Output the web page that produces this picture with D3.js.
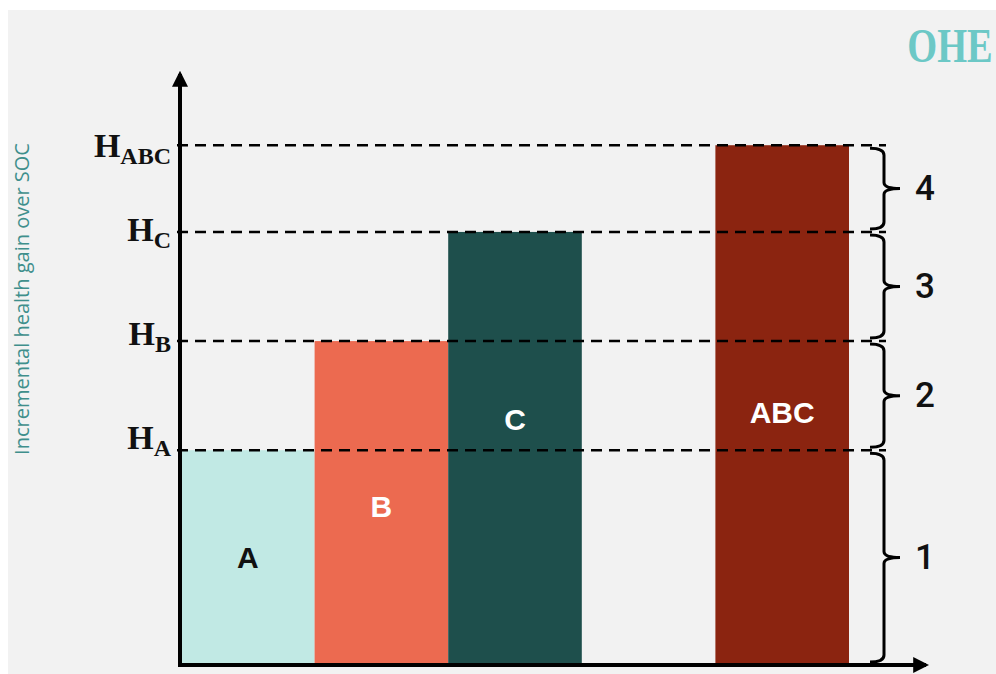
<!DOCTYPE html>
<html>
<head>
<meta charset="utf-8">
<script src="https://cdn.jsdelivr.net/npm/d3@7"></script>
<style>
  html, body { margin: 0; padding: 0; background: #ffffff; }
  svg { display: block; }
</style>
</head>
<body>
<svg id="chart" width="996" height="674"></svg>
<script>
// Options (bars), in drawing order; "_" is an empty slot between C and ABC
const categories = ["A", "B", "C", "_", "ABC"];
const barNames   = ["A", "B", "C", "ABC"];
const barValues  = [3.64, 5.49, 7.34, 8.81];
const barColors  = ["#c1e9e4", "#ec6a50", "#1e4f4c", "#8b2410"];
const barText    = ["#111111", "#ffffff", "#ffffff", "#ffffff"];

// Health-gain levels marked on the y axis (same values as the bars)
const levelMain = ["H", "H", "H", "H"];
const levelSub  = ["A", "B", "C", "ABC"];

// Braced increments between consecutive levels
const braceLabels = ["1", "2", "3", "4"];

const yTitle = "Incremental health gain over SOC";
const logoText = "OHE";

const svg = d3.select("#chart");

// light panel
svg.append("rect")
  .attr("x", 8).attr("y", 10)
  .attr("width", 996 - 8).attr("height", 674 - 10)
  .attr("fill", "#f2f2f2");

const x0 = 181, x1 = 849;
const y = d3.scaleLinear().domain([0, 10]).range([665, 75]);
const x = d3.scaleBand().domain(categories).range([x0, x1]).padding(0);

// arrow heads
const defs = svg.append("defs");
defs.append("marker")
  .attr("id", "arrow")
  .attr("viewBox", "0 0 10 10")
  .attr("refX", 8).attr("refY", 5)
  .attr("markerWidth", 4).attr("markerHeight", 4)
  .attr("markerUnits", "strokeWidth")
  .attr("orient", "auto")
  .append("path")
  .attr("d", "M0,0 L10,5 L0,10 Z")
  .attr("fill", "#000");

// bars
const bars = svg.append("g");
barNames.forEach((name, i) => {
  bars.append("rect")
    .attr("x", x(name))
    .attr("y", y(barValues[i]))
    .attr("width", x.bandwidth())
    .attr("height", y(0) - y(barValues[i]))
    .attr("fill", barColors[i]);
});

// bar labels (placed near the middle of each bar)
const labelFrac = [0.5, 0.49, 0.566, 0.485];
barNames.forEach((name, i) => {
  bars.append("text")
    .attr("x", x(name) + x.bandwidth() / 2)
    .attr("y", y(barValues[i] * labelFrac[i]))
    .attr("text-anchor", "middle")
    .attr("dominant-baseline", "central")
    .attr("font-family", "'Liberation Sans', Arial, sans-serif")
    .attr("font-weight", "bold")
    .attr("font-size", 30)
    .attr("fill", barText[i])
    .text(name);
});

// dashed level lines
const dashG = svg.append("g");
barValues.forEach(v => {
  dashG.append("line")
    .attr("x1", x0 - 4).attr("x2", 886)
    .attr("y1", y(v)).attr("y2", y(v))
    .attr("stroke", "#000")
    .attr("stroke-width", 2.5)
    .attr("stroke-dasharray", "11 7");
});

// axes
svg.append("line")
  .attr("x1", x0 - 1).attr("y1", y(0) + 2)
  .attr("x2", x0 - 1).attr("y2", 74)
  .attr("stroke", "#000").attr("stroke-width", 4)
  .attr("marker-end", "url(#arrow)");
svg.append("line")
  .attr("x1", x0 - 3).attr("y1", y(0))
  .attr("x2", 926).attr("y2", y(0))
  .attr("stroke", "#000").attr("stroke-width", 4)
  .attr("marker-end", "url(#arrow)");

// level labels H_A ... H_ABC (baseline nudged per label)
const lvlShift = [-1, 4, 9, 12];
const lvl = svg.append("g");
barValues.forEach((v, i) => {
  const t = lvl.append("text")
    .attr("x", 171)
    .attr("y", y(v) + lvlShift[i])
    .attr("text-anchor", "end")
    .attr("font-family", "'Liberation Serif', 'Times New Roman', serif")
    .attr("font-weight", "bold")
    .attr("fill", "#111");
  t.append("tspan").attr("font-size", 34).text(levelMain[i]);
  t.append("tspan").attr("font-size", 24).attr("dy", 7).text(levelSub[i]);
});

// curly braces
const levels = [0].concat(barValues);
const braceG = svg.append("g");
const xv = 884, xh = 870, xt = 900;
braceLabels.forEach((lab, i) => {
  const top = y(levels[i + 1]) + 3;
  const bot = y(levels[i]) - 3;
  const mid = (top + bot) / 2;
  const p = d3.path();
  p.moveTo(xh, top);
  p.quadraticCurveTo(xv, top, xv, top + 7);
  p.lineTo(xv, mid - 6);
  p.quadraticCurveTo(xv, mid, xt, mid);
  p.quadraticCurveTo(xv, mid, xv, mid + 6);
  p.lineTo(xv, bot - 7);
  p.quadraticCurveTo(xv, bot, xh, bot);
  braceG.append("path")
    .attr("d", p.toString())
    .attr("fill", "none")
    .attr("stroke", "#000")
    .attr("stroke-width", 3);
  braceG.append("text")
    .attr("x", 925)
    .attr("y", mid)
    .attr("text-anchor", "middle")
    .attr("dominant-baseline", "central")
    .attr("font-family", "Roboto, sans-serif")
    .attr("font-weight", 500)
    .attr("font-size", 35)
    .attr("fill", "#111")
    .text(lab);
});

// y-axis title
svg.append("text")
  .attr("transform", "translate(21,299) rotate(-90)")
  .attr("text-anchor", "middle")
  .attr("dominant-baseline", "central")
  .attr("font-family", "'Open Sans', sans-serif")
  .attr("font-size", 20)
  .attr("fill", "#3f8f8c")
  .text(yTitle);

// logo
svg.append("text")
  .attr("transform", "translate(950,62) scale(0.8,1)")
  .attr("text-anchor", "middle")
  .attr("font-family", "'Liberation Serif', serif")
  .attr("font-weight", "bold")
  .attr("font-size", 48)
  .attr("fill", "#6cc8c6")
  .text(logoText);
</script>
</body>
</html>
